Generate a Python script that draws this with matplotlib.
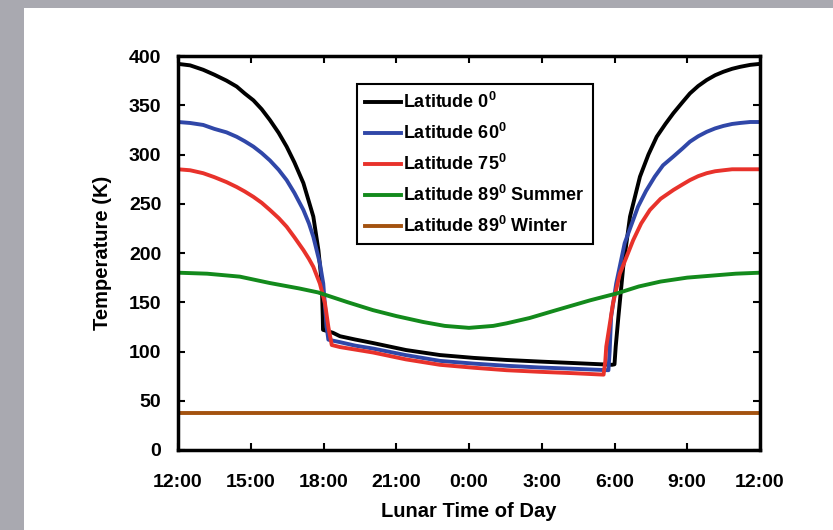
import matplotlib
matplotlib.use("Agg")
import matplotlib.pyplot as plt
from matplotlib.patches import Rectangle

# hours after local noon (0 = 12:00, 24 = next 12:00)
hours_lat0 = [0, 0.5, 1.04, 1.5, 2.0, 2.42, 2.75, 3.11, 3.45, 3.79, 4.15, 4.48, 4.8, 5.17,
              5.4, 5.58, 5.79, 5.93, 5.97, 5.98,
              6.39, 6.68, 7.3, 8.04, 9.4, 10.8, 12.2, 13.55, 14.9, 16.29, 17.9, 18.0,
              18.05, 18.16, 18.36, 18.64, 19.05, 19.4, 19.74, 20.1, 20.43, 20.8, 21.11,
              21.45, 21.80, 22.15, 22.49, 22.85, 23.18, 23.6, 24]
temp_lat0 = [392, 390.5, 386, 381, 375, 369, 362, 355, 346, 335, 322, 308, 292, 271,
             252, 237, 203, 169, 135, 122,
             119, 115.5, 112.2, 108.6, 101.5, 96.4, 93.5, 91.4, 89.8, 88.3, 86.5, 87,
             105, 135, 186, 237, 277.5, 300, 318, 331, 342, 353, 362,
             369.5, 375.6, 380.5, 384, 387, 389, 391, 392]

hours_lat60 = [0, 0.5, 1.04, 1.5, 2.0, 2.42, 2.75, 3.11, 3.45, 3.79, 4.15, 4.48, 4.8, 5.17,
               5.4, 5.58, 5.85, 5.99, 6.13, 6.2,
               6.68, 7.3, 8.04, 9.4, 10.8, 12.2, 13.55, 14.9, 16.29, 17.75, 17.8, 17.86,
               18.07, 18.42, 18.97, 19.3, 19.66, 20.0, 20.43, 20.8, 21.11, 21.45, 21.80,
               22.15, 22.49, 22.85, 23.18, 23.6, 24]
temp_lat60 = [333, 332, 330, 326, 322.5, 318, 313.5, 308, 301.5, 294, 284.5, 274, 261, 243.7,
              230, 216.5, 189.6, 169, 125, 112,
              109.5, 106, 103, 96.3, 90.5, 87.7, 85.5, 83.8, 82.5, 81, 100, 135,
              169, 210, 247, 263, 277.5, 289, 298, 306, 313, 318.5, 323,
              326.5, 329, 331, 332, 333, 333]

hours_lat75 = [0, 0.5, 1.04, 1.5, 2.0, 2.42, 2.75, 3.11, 3.45, 3.79, 4.15, 4.48, 4.8, 5.17,
               5.4, 5.58, 5.85, 6.06, 6.2, 6.34,
               6.68, 7.3, 8.04, 9.4, 10.8, 12.2, 13.55, 14.9, 16.29, 17.55, 17.62, 17.66,
               17.94, 18.22, 18.77, 19.1, 19.46, 19.9, 20.43, 20.8, 21.11, 21.45, 21.80,
               22.15, 22.49, 22.85, 23.18, 23.6, 24]
temp_lat75 = [285, 284, 281, 277, 272, 267, 262.5, 257, 251, 243.7, 235.5, 226.7, 216, 203,
              194, 186, 169, 149, 125, 106.6,
              104.5, 102, 99, 92, 86.5, 83.5, 81, 79.4, 78, 76.5, 90, 105,
              149, 179, 213, 230, 243.7, 255, 264, 269.5, 274, 278, 281,
              283, 284, 285, 285, 285, 285]

hours_lat89s = [0, 1.2, 2.55, 3.79, 5.0, 5.77, 7.0, 8.04, 9.0, 10.1, 11.0, 12, 13.0, 13.55,
                14.5, 15.6, 17.0, 18.1, 19.0, 19.9, 21.0, 22.0, 23.0, 24]
temp_lat89s = [180, 179, 176, 169.5, 164, 160, 150, 142, 136, 130, 126, 124, 126, 128.6,
               134, 142, 152, 159, 166, 171, 175, 177, 179, 180]

hours_lat89w = [0, 24]
temp_lat89w = [38, 38]

series = [
    (hours_lat0, temp_lat0, "#000000", r"Latitude 0$^\mathbf{0}$"),
    (hours_lat60, temp_lat60, "#3047a8", r"Latitude 60$^\mathbf{0}$"),
    (hours_lat75, temp_lat75, "#e8322b", r"Latitude 75$^\mathbf{0}$"),
    (hours_lat89s, temp_lat89s, "#138a1c", r"Latitude 89$^\mathbf{0}$ Summer"),
    (hours_lat89w, temp_lat89w, "#a3520f", r"Latitude 89$^\mathbf{0}$ Winter"),
]

tick_hours = [0, 3, 6, 9, 12, 15, 18, 21, 24]
tick_names = ["12:00", "15:00", "18:00", "21:00", "0:00", "3:00", "6:00", "9:00", "12:00"]

plt.rcParams['font.family'] = ['Liberation Sans', 'DejaVu Sans']
plt.rcParams['font.weight'] = 'bold'
plt.rcParams['mathtext.fontset'] = 'custom'
plt.rcParams['mathtext.rm'] = 'Liberation Sans:bold'
plt.rcParams['mathtext.bf'] = 'Liberation Sans:bold'

fig = plt.figure(figsize=(8.33, 5.30), dpi=100)
fig.patch.set_facecolor("#a9a9b0")
fig.patches.append(Rectangle((24 / 833, 0), 1, 1 - 8 / 530, transform=fig.transFigure,
                             facecolor="white", edgecolor="none", zorder=-10))

ax = fig.add_axes([178 / 833, 80 / 530, 582 / 833, 394 / 530])
ax.set_zorder(5)
for hx, ty, col, lab in series:
    ax.plot(hx, ty, color=col, lw=2.8, label=lab, solid_joinstyle='round')

ax.set_xlim(0, 24)
ax.set_ylim(0, 400)
ax.set_xticks(tick_hours)
ax.set_xticklabels(tick_names)
ax.set_yticks(range(0, 401, 50))
ax.tick_params(direction='in', length=5, width=1.5, top=True, right=True,
               labelsize=14)
ax.tick_params(axis='x', pad=17)
ax.tick_params(axis='y', pad=12)
for s in ax.spines.values():
    s.set_linewidth(2.5)

ax.set_xlabel("Lunar Time of Day", fontsize=14.5, fontweight='bold', labelpad=8)
ax.set_ylabel("Temperature (K)", fontsize=14.5, fontweight='bold', labelpad=12)

leg = ax.legend(loc='upper left', bbox_to_anchor=(0.3076, 0.929), fontsize=13,
                handlelength=2.0, handletextpad=0.1, labelspacing=0.6,
                borderpad=0.45, fancybox=False, framealpha=1, borderaxespad=0)
leg.get_frame().set_edgecolor('black')
leg.get_frame().set_linewidth(1.5)

fig.savefig("out.png", dpi=100, facecolor=fig.get_facecolor())
